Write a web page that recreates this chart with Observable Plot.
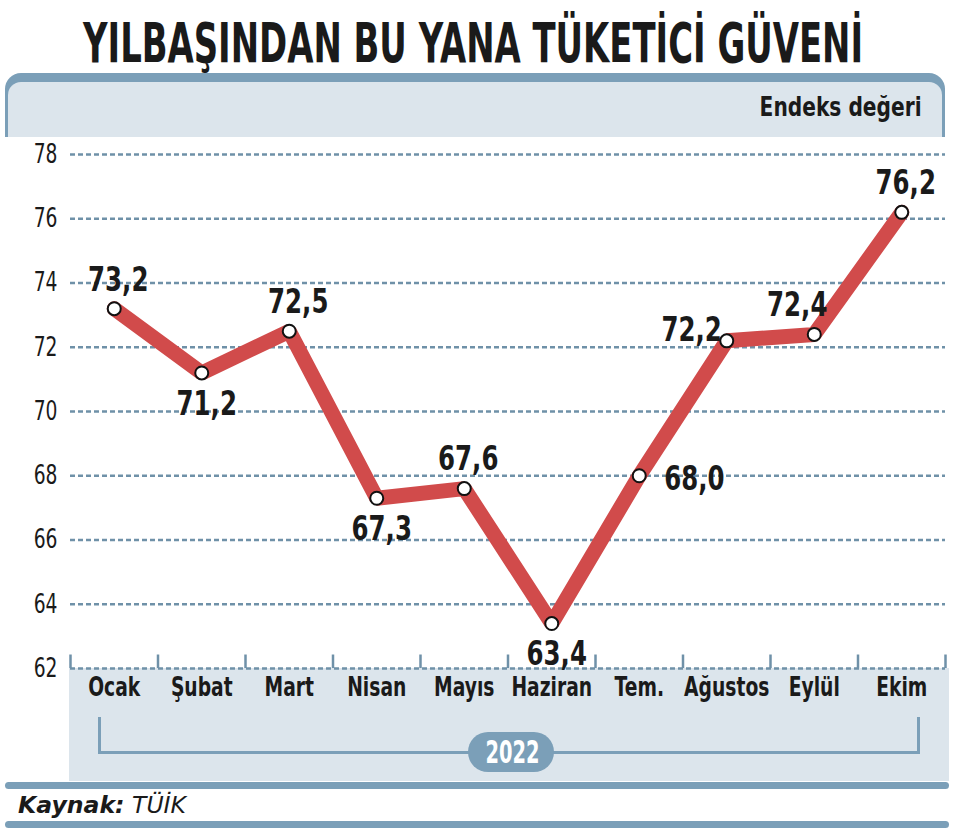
<!DOCTYPE html>
<html>
<head>
<meta charset="utf-8">
<script src="https://cdn.jsdelivr.net/npm/d3@7"></script>
<script src="https://cdn.jsdelivr.net/npm/@observablehq/plot@0.6"></script>
<style>
  html, body { margin: 0; padding: 0; background: #fff; }
  body { width: 960px; height: 839px; position: relative; overflow: hidden;
         font-family: "DejaVu Sans", sans-serif; }
  .abs { position: absolute; }
  .fit { display: inline-block; white-space: nowrap; }
  #title { left: 83px; top: 16px; font-size: 55px; line-height: 55px; font-weight: bold; color: #1a1a1a; transform-origin: left center; }
  #hdrOuter { left: 5px; top: 73px; width: 940px; height: 64px; background: #7b9fb8; border-radius: 16px 16px 0 0; }
  #hdrInner { left: 3px; right: 3px; top: 9px; bottom: 0; background: #dce5ec; border-radius: 13px 13px 0 0; }
  #unit { right: 20px; top: 11px; font-size: 27px; line-height: 27px; font-weight: bold; color: #1a1a1a; transform-origin: right center; }
  #band { left: 69px; top: 668px; width: 880px; height: 113px; background: #dce5ec; }
  .brk { background: #7b9fb8; }
  #pill { left: 468px; top: 732px; width: 86px; height: 40px; border-radius: 20px; background: #7b9fb8; }
  #pillText { left: 0; width: 86px; top: 0; height: 40px; line-height: 40px; text-align: center; color: #fff; font-size: 32px; font-weight: bold; }
  #pillText span { transform-origin: center; }
  .bar { left: 5px; width: 944px; height: 7px; border-radius: 4px; background: #7b9fb8; }
  #source { left: 18px; top: 794px; font-size: 23px; line-height: 23px; font-style: italic; color: #1a1a1a; transform-origin: left center; }
  #chart { left: 0; top: 137px; }
</style>
</head>
<body>
<span id="title" class="abs fit">YILBAŞINDAN BU YANA TÜKETİCİ GÜVENİ</span>
<div id="hdrOuter" class="abs"><div id="hdrInner" class="abs"><span id="unit" class="abs fit">Endeks değeri</span></div></div>
<div id="band" class="abs"></div>
<div class="abs brk" style="left:98px;top:717px;width:3px;height:37px;"></div>
<div class="abs brk" style="left:917px;top:717px;width:3px;height:37px;"></div>
<div class="abs brk" style="left:98px;top:751px;width:822px;height:3px;"></div>
<div id="pill" class="abs"><div id="pillText" class="abs"><span class="fit" id="yearText"></span></div></div>
<div class="abs bar" style="top:782px;"></div>
<span id="source" class="abs fit"><b>Kaynak:</b> TÜİK</span>
<div class="abs bar" style="top:821px;"></div>
<div id="chart" class="abs"></div>
<script>
// ---- data ----
const months = ["Ocak", "Şubat", "Mart", "Nisan", "Mayıs", "Haziran", "Tem.", "Ağustos", "Eylül", "Ekim"];
const values = [73.2, 71.2, 72.5, 67.3, 67.6, 63.4, 68.0, 72.2, 72.4, 76.2];
const valueLabels = ["73,2", "71,2", "72,5", "67,3", "67,6", "63,4", "68,0", "72,2", "72,4", "76,2"];
const yTicks = [62, 64, 66, 68, 70, 72, 74, 76, 78];
const year = "2022";
// label placement relative to each point
const labelPlacement = ["top", "bottom", "topRight", "bottom", "top", "bottom", "right", "left", "topLeft", "top"];

const data = months.map((m, i) => ({i, month: m, value: values[i], label: valueLabels[i], place: labelPlacement[i]}));
const boundaries = d3.range(months.length + 1).map(i => i - 0.5);

const red = "#d14b4b";
const grid = "#6f91a8";
const font = "'DejaVu Sans',sans-serif";

const placements = {
  top:      {dx: 4,   dy: -29, textAnchor: "middle"},
  topRight: {dx: 9,   dy: -29, textAnchor: "middle"},
  topLeft:  {dx: -17, dy: -29, textAnchor: "middle"},
  bottom:   {dx: 5,   dy: 31,  textAnchor: "middle"},
  right:    {dx: 25,  dy: 3,   textAnchor: "start"},
  left:     {dx: -5,  dy: -11, textAnchor: "end"}
};

const labelMarks = Object.entries(placements).map(([key, p]) =>
  Plot.text(data.filter(d => d.place === key), {
    x: "i", y: "value", text: "label", dx: p.dx, dy: p.dy, textAnchor: p.textAnchor,
    lineAnchor: "middle", fontSize: 34, fontWeight: "bold", fill: "#1a1a1a"
  })
);

const chart = Plot.plot({
  width: 960,
  height: 644,
  marginTop: 17,
  marginBottom: 113,
  marginLeft: 70,
  marginRight: 15,
  style: {background: "transparent", fontFamily: font, color: "#1a1a1a"},
  x: {type: "linear", domain: [-0.5, months.length - 0.5], axis: null},
  y: {domain: [62, 78], axis: null},
  marks: [
    Plot.ruleY(yTicks, {y: d => d, stroke: grid, strokeWidth: 2.5, strokeDasharray: "5,3"}),
    Plot.ruleX(boundaries, {x: d => d, y1: 62, y2: 62.42, stroke: grid, strokeWidth: 2.5}),
    Plot.axisY(yTicks, {label: null, tickSize: 0, tickPadding: 13, fontSize: 26, tickFormat: d => String(d), fill: "#1a1a1a"}),
    Plot.axisX(d3.range(months.length), {label: null, tickSize: 0, tickPadding: 9, fontSize: 26, fontWeight: "bold",
      tickFormat: i => months[i], fill: "#1a1a1a"}),
    Plot.line(data, {x: "i", y: "value", stroke: red, strokeWidth: 15, strokeLinejoin: "miter"}),
    Plot.dot(data, {x: "i", y: "value", r: 6.5, fill: "white", stroke: "#111", strokeWidth: 2}),
    ...labelMarks
  ]
});
document.getElementById("chart").appendChild(chart);

// condensed look: squeeze every svg text horizontally around its anchor
function condense(svg, k) {
  svg.querySelectorAll("text").forEach(t => {
    const tr = t.getAttribute("transform") || "";
    if (/translate/.test(tr)) {
      t.setAttribute("transform", tr + ` scale(${k},1)`);
    } else {
      const x = parseFloat(t.getAttribute("x")) || 0;
      t.setAttribute("transform", `translate(${x},0) scale(${k},1) translate(${-x},0)` + (tr ? " " + tr : ""));
    }
  });
}
condense(chart, 0.72);

document.getElementById("yearText").textContent = year;

function fitWidth(el, target) {
  const w = el.getBoundingClientRect().width;
  el.style.transform = `scaleX(${target / w})`;
}
fitWidth(document.getElementById("title"), 780);
fitWidth(document.getElementById("unit"), 162);
fitWidth(document.getElementById("yearText"), 54);
fitWidth(document.getElementById("source"), 168);
</script>
</body>
</html>
